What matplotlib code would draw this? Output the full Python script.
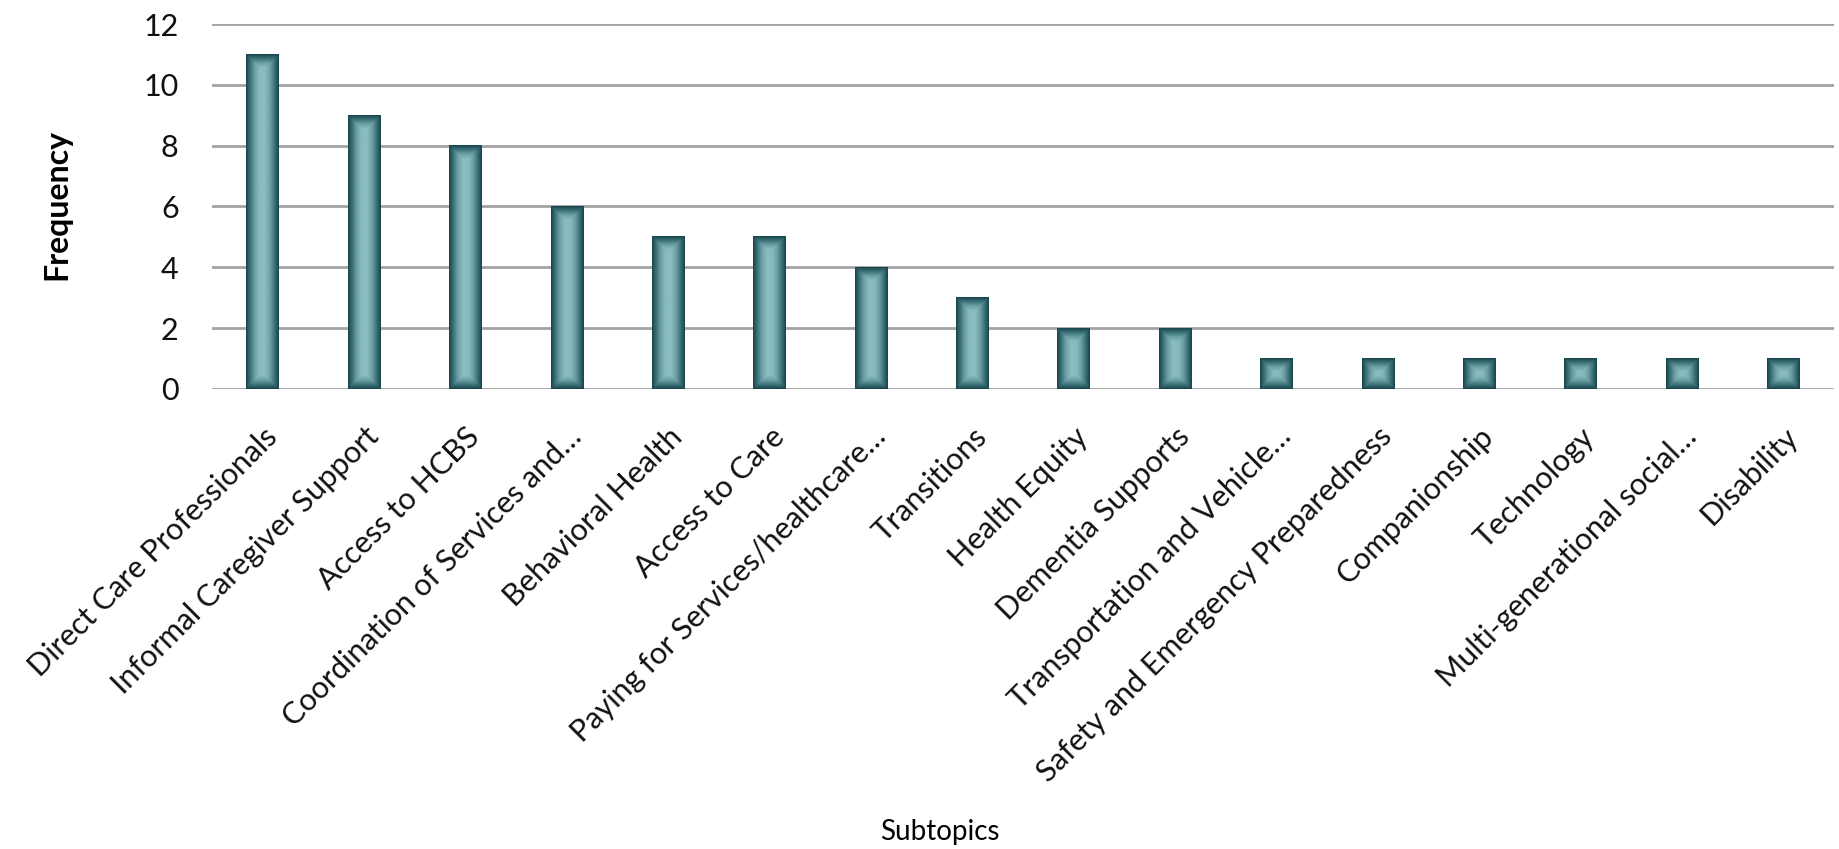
import numpy as np
import matplotlib.pyplot as plt
from matplotlib.colors import LinearSegmentedColormap

subtopics = ['Direct Care Professionals', 'Informal Caregiver Support', 'Access to HCBS',
             'Coordination of Services and\u2026', 'Behavioral Health', 'Access to Care',
             'Paying for Services/healthcare\u2026', 'Transitions', 'Health Equity',
             'Dementia Supports', 'Transportation and Vehicle\u2026',
             'Safety and Emergency Preparedness', 'Companionship', 'Technology',
             'Multi-generational social\u2026', 'Disability']
frequency = [11, 9, 8, 6, 5, 5, 4, 3, 2, 2, 1, 1, 1, 1, 1, 1]
y_ticks = [0, 2, 4, 6, 8, 10, 12]

plt.rcParams['font.family'] = ['Lato', 'DejaVu Sans']

fig = plt.figure(figsize=(18.39, 8.49), dpi=100)
ax = fig.add_axes([212/1839, 1 - 389/849, 1622/1839, 365/849])

x = np.arange(len(frequency))
bars = ax.bar(x, frequency, width=0.32, color='none', zorder=3)
ax.set_xlim(-0.5, len(frequency) - 0.5)
ax.set_ylim(0, 12)

# shaded "cylinder" look: dark near every edge, light in the middle
cmap = LinearSegmentedColormap.from_list('teal', ['#1a474d', '#3a7177', '#6a9fa4', '#8abbbf'])
for b in bars:
    x0, y0, w, h = b.get_x(), b.get_y(), b.get_width(), b.get_height()
    (px0, py0), (px1, py1) = ax.transData.transform([(x0, y0), (x0 + w, y0 + h)])
    nw, nh = max(int(px1 - px0), 2), max(int(py1 - py0), 2)
    U, V = np.meshgrid(np.linspace(0, nw, nw), np.linspace(0, nh, nh))
    d = np.minimum(np.minimum(U, nw - U), np.minimum(V, nh - V))
    shade = np.clip(d / 13.0, 0, 1) ** 0.9
    ax.imshow(shade, cmap=cmap, vmin=0, vmax=1, extent=(x0, x0 + w, y0, y0 + h),
              aspect='auto', origin='lower', zorder=3, interpolation='bilinear')

ax.set_xlim(-0.5, len(frequency) - 0.5)
ax.set_ylim(0, 12)
ax.set_yticks(y_ticks)
ax.yaxis.grid(True, color='#a3a3a3', linewidth=2, zorder=0)
ax.set_axisbelow(True)
for s in ax.spines.values():
    s.set_visible(False)
ax.tick_params(length=0, colors='#111111')
ax.tick_params(axis='y', labelsize=22, pad=24)
ax.set_xticks(x)
ax.set_xticklabels(subtopics, rotation=45, ha='right', va='top', rotation_mode='anchor')
ax.tick_params(axis='x', labelsize=22, pad=24)

fig.text(57/1839, 1 - 205/849, 'Frequency', fontsize=23, fontweight='bold',
         rotation=90, ha='center', va='center')
fig.text(940/1839, 1 - 832/849, 'Subtopics', fontsize=20, ha='center', va='center')

fig.savefig('out.png', dpi=100)
